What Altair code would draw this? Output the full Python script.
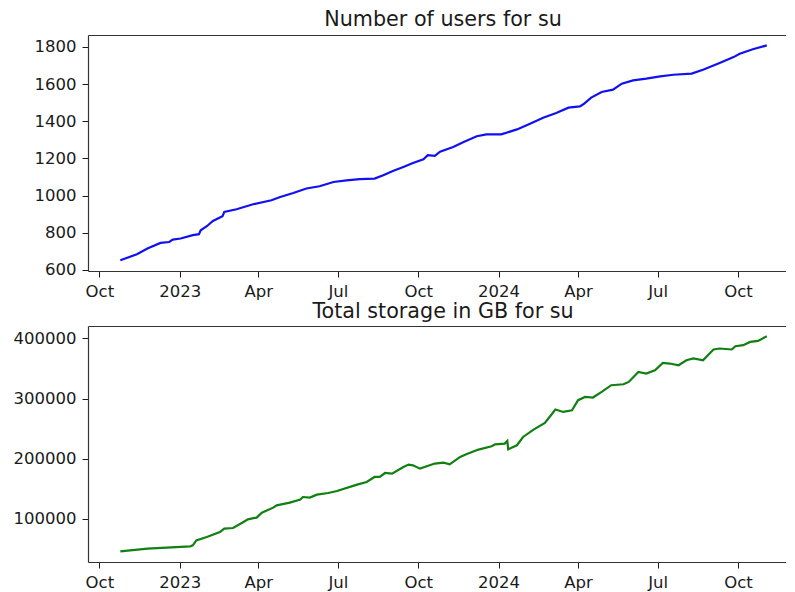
import altair as alt
import pandas as pd

# ---- data ----
user_dates = [
    "2022-10-25", "2022-11-13", "2022-11-25", "2022-12-10", "2022-12-20", "2022-12-24",
    "2023-01-02", "2023-01-16", "2023-01-23", "2023-01-25", "2023-02-01", "2023-02-08",
    "2023-02-16", "2023-02-19", "2023-02-21", "2023-03-07", "2023-03-26", "2023-04-16",
    "2023-04-26", "2023-05-11", "2023-05-26", "2023-06-10", "2023-06-26", "2023-07-11",
    "2023-07-26", "2023-08-12", "2023-08-22", "2023-09-02", "2023-09-14", "2023-09-25",
    "2023-10-07", "2023-10-12", "2023-10-20", "2023-10-26", "2023-11-10", "2023-11-22",
    "2023-12-07", "2023-12-18", "2024-01-04", "2024-01-22", "2024-02-06", "2024-02-21",
    "2024-03-07", "2024-03-21", "2024-04-03", "2024-04-07", "2024-04-16", "2024-04-28",
    "2024-05-11", "2024-05-21", "2024-06-03", "2024-06-18", "2024-07-04", "2024-07-19",
    "2024-08-09", "2024-08-22", "2024-09-10", "2024-09-26", "2024-10-03", "2024-10-18",
    "2024-11-03",
]
user_counts = [
    652, 684, 715, 745, 750, 763,
    769, 787, 792, 813, 835, 863,
    882, 889, 912, 926, 953, 975,
    992, 1014, 1038, 1050, 1073, 1082,
    1088, 1091, 1109, 1132, 1154, 1175,
    1195, 1217, 1214, 1236, 1261, 1288,
    1319, 1329, 1329, 1356, 1387, 1419,
    1444, 1473, 1480, 1491, 1527, 1557,
    1570, 1602, 1620, 1629, 1641, 1650,
    1656, 1677, 1713, 1745, 1763, 1787,
    1808,
]

storage_dates = [
    "2022-10-25", "2022-11-25", "2023-01-13", "2023-01-16", "2023-01-20", "2023-02-01",
    "2023-02-16", "2023-02-21", "2023-03-03", "2023-03-15", "2023-03-20", "2023-03-30",
    "2023-04-05", "2023-04-18", "2023-04-22", "2023-05-07", "2023-05-19", "2023-05-22",
    "2023-05-30", "2023-06-07", "2023-06-20", "2023-06-30", "2023-07-23", "2023-08-03",
    "2023-08-12", "2023-08-18", "2023-08-24", "2023-09-01", "2023-09-14", "2023-09-20",
    "2023-09-25", "2023-10-03", "2023-10-20", "2023-10-30", "2023-11-06", "2023-11-18",
    "2023-11-25", "2023-12-09", "2023-12-24", "2023-12-28", "2024-01-08", "2024-01-11",
    "2024-01-12", "2024-01-22", "2024-01-29", "2024-02-10", "2024-02-23", "2024-02-27",
    "2024-03-06", "2024-03-15", "2024-03-25", "2024-04-01", "2024-04-09", "2024-04-18",
    "2024-04-28", "2024-05-09", "2024-05-23", "2024-05-29", "2024-06-09", "2024-06-18",
    "2024-06-28", "2024-07-07", "2024-07-15", "2024-07-25", "2024-08-03", "2024-08-11",
    "2024-08-22", "2024-09-03", "2024-09-10", "2024-09-24", "2024-09-28", "2024-10-07",
    "2024-10-15", "2024-10-24", "2024-11-03",
]
storage_gb = [
    45500, 50000, 53800, 55500, 63800, 69300,
    77700, 83300, 84400, 94400, 98800, 101700,
    110000, 118300, 122200, 126700, 131700, 136000,
    135000, 140000, 142700, 146000, 156700, 161100,
    169400, 169400, 176000, 175000, 186000, 190000,
    188800, 183300, 191700, 193300, 190500, 202700,
    207200, 215000, 220500, 223800, 225000, 229300,
    215500, 222200, 236000, 248300, 259300, 266700,
    281700, 277700, 280500, 297200, 302700, 301700,
    311000, 322200, 323800, 327700, 344300, 341700,
    347200, 359400, 358300, 355500, 363800, 366700,
    363800, 381700, 383300, 381700, 387200, 388800,
    394300, 396000, 403800,
]

x_tick_dates = [(2022, 10), (2023, 1), (2023, 4), (2023, 7), (2023, 10),
                (2024, 1), (2024, 4), (2024, 7), (2024, 10)]
users_ticks = [600, 800, 1000, 1200, 1400, 1600, 1800]
storage_ticks = [100000, 200000, 300000, 400000]

users_df = pd.DataFrame({"date": user_dates, "value": user_counts})
storage_df = pd.DataFrame({"date": storage_dates, "value": storage_gb})

FONT = "DejaVu Sans"
TXT = "#1a1a1a"
FRAME = "#333333"

x_values = [alt.DateTime(year=y, month=m, date=1, utc=True) for y, m in x_tick_dates]
x_domain = [alt.DateTime(year=2022, month=9, date=18, utc=True),
            alt.DateTime(year=2024, month=11, date=25, utc=True)]
label_expr = ("utcFormat(datum.value, '%m') == '01' ? utcFormat(datum.value, '%Y') "
              ": utcFormat(datum.value, '%b')")
x_scale = alt.Scale(type="utc", domain=x_domain)

W, H = 698, 236


def panel(df, color, y_domain, y_ticks, title, title_offset):
    y_scale = alt.Scale(domain=y_domain, nice=False, zero=False)
    line = alt.Chart(df).mark_line(color=color, strokeWidth=2.2).encode(
        x=alt.X("date:T", scale=x_scale,
                axis=alt.Axis(values=x_values, labelExpr=label_expr, title=None,
                              labelFlush=False, labelOverlap=False)),
        y=alt.Y("value:Q", scale=y_scale,
                axis=alt.Axis(values=y_ticks, format="d", title=None,
                              labelOverlap=False, labelFlush=False)),
    )
    # invisible rules that only carry the top edge of the frame (an x axis on top)
    top_edge = alt.Chart(df).mark_rule(opacity=0).encode(
        x=alt.X("date:T", scale=x_scale,
                axis=alt.Axis(orient="top", labels=False, ticks=False,
                              domain=True, title=None)),
    )
    return alt.layer(line, top_edge).resolve_axis(x="independent").properties(
        width=W, height=H,
        title=alt.TitleParams(title, dx=6, offset=title_offset),
    )


top = panel(users_df, "#1010f0", [594, 1864], users_ticks,
            "Number of users for su", 4.5)
bottom = panel(storage_df, "#108010", [27800, 420800], storage_ticks,
               "Total storage in GB for su", 3)

chart = alt.vconcat(top, bottom, spacing=1).properties(
    padding={"left": 5, "top": 0, "right": 0, "bottom": 0},
    background="white",
).configure_axis(
    labelFont=FONT, labelFontSize=16.5, labelColor=TXT,
    tickColor=TXT, tickSize=6, tickWidth=1,
    domain=True, domainColor=FRAME, domainWidth=1.2,
    grid=False, labelPadding=6,
).configure_view(
    strokeWidth=0,
).configure_title(
    font=FONT, fontSize=20.7, fontWeight="normal", color=TXT,
)

chart.save("out.html", embed_options={"renderer": "svg", "actions": False})
